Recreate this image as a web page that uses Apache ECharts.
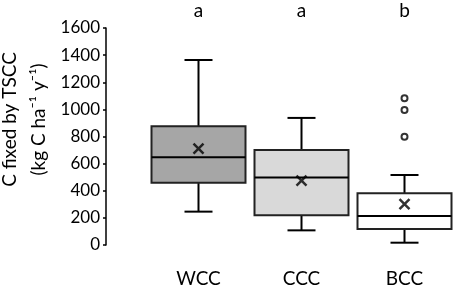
<!DOCTYPE html>
<html>
<head>
<meta charset="utf-8">
<script src="https://cdn.jsdelivr.net/npm/echarts@6/dist/echarts.min.js"></script>
<style>
  html, body { margin: 0; padding: 0; background: #fff; }
  #chart { width: 457px; height: 287px; }
</style>
</head>
<body>
<div id="chart"></div>
<script>
// groups and significance letters
const groups = ['WCC', 'CCC', 'BCC']
const letters = ['a', 'a', 'b']
// [min, Q1, median, Q3, max] per group
const boxStats = [
  [246, 459, 647, 875, 1364],
  [108, 219, 497, 700, 937],
  [17, 118, 214, 381, 516]
]
const means = [710, 474, 302]
// outliers: [group index, value]
const outliers = [[2, 799], [2, 996], [2, 1082]]
const boxColors = ['#a6a6a6', '#d9d9d9', '#ffffff']

const font = 'Lato, "Open Sans", sans-serif'

const chart = echarts.init(document.getElementById('chart'))

const boxData = boxStats.map((s, i) => [i].concat(s))

chart.setOption({
  animation: false,
  grid: { left: 147, right: 1, top: 28, bottom: 42, outerBoundsMode: 'none' },
  xAxis: [
    {
      type: 'category',
      data: groups,
      axisLine: { show: false },
      axisTick: { show: false },
      axisLabel: { color: '#000', fontSize: 19, fontFamily: font, margin: 24 }
    },
    {
      type: 'category',
      position: 'top',
      data: letters,
      axisLine: { show: false },
      axisTick: { show: false },
      axisLabel: { color: '#000', fontSize: 19, fontFamily: font, margin: 8 }
    }
  ],
  yAxis: {
    type: 'value',
    min: 0,
    max: 1600,
    interval: 200,
    offset: 41,
    splitLine: { show: false },
    axisLine: { show: true, lineStyle: { color: '#000', width: 1.5 } },
    axisTick: { show: true, length: 3, lineStyle: { color: '#000', width: 1.5 } },
    axisLabel: { color: '#000', fontSize: 17, fontFamily: font, margin: 6, formatter: v => String(v) },
    name: 'C fixed by TSCC\n(kg C ha\u207B\u00B9 y\u207B\u00B9)',
    nameLocation: 'middle',
    nameRotate: 90,
    nameGap: 53,
    nameMoveOverlap: false,
    nameTextStyle: { color: '#000', fontSize: 19, fontFamily: font, lineHeight: 29, padding: [0, 0, 0, 34] }
  },
  series: [
    {
      type: 'custom',
      data: boxData,
      renderItem: function (params, api) {
        const i = api.value(0)
        const bw = 94
        const cap = 28
        const pMin = api.coord([i, api.value(1)])
        const pQ1 = api.coord([i, api.value(2)])
        const pMed = api.coord([i, api.value(3)])
        const pQ3 = api.coord([i, api.value(4)])
        const pMax = api.coord([i, api.value(5)])
        const x = pMin[0]
        const stroke = { stroke: '#000', lineWidth: 2 }
        return {
          type: 'group',
          children: [
            { type: 'line', shape: { x1: x, y1: pMax[1], x2: x, y2: pQ3[1] }, style: stroke },
            { type: 'line', shape: { x1: x, y1: pQ1[1], x2: x, y2: pMin[1] }, style: stroke },
            { type: 'line', shape: { x1: x - cap / 2, y1: pMax[1], x2: x + cap / 2, y2: pMax[1] }, style: stroke },
            { type: 'line', shape: { x1: x - cap / 2, y1: pMin[1], x2: x + cap / 2, y2: pMin[1] }, style: stroke },
            {
              type: 'rect',
              shape: { x: x - bw / 2, y: pQ3[1], width: bw, height: pQ1[1] - pQ3[1] },
              style: { fill: boxColors[i], stroke: '#222', lineWidth: 2 }
            },
            { type: 'line', shape: { x1: x - bw / 2, y1: pMed[1], x2: x + bw / 2, y2: pMed[1] }, style: stroke }
          ]
        }
      },
      z: 2
    },
    {
      type: 'scatter',
      data: means.map((m, i) => [i, m]),
      symbol: 'path://M0,0L10,10M10,0L0,10',
      symbolSize: 10,
      itemStyle: { color: 'none', borderColor: '#000', borderWidth: 2.5 },
      z: 3
    },
    {
      type: 'scatter',
      data: outliers,
      symbol: 'emptyCircle',
      symbolSize: 6,
      itemStyle: { color: '#000', borderColor: '#000', borderWidth: 1.5 },
      z: 3
    }
  ]
})
</script>
</body>
</html>
